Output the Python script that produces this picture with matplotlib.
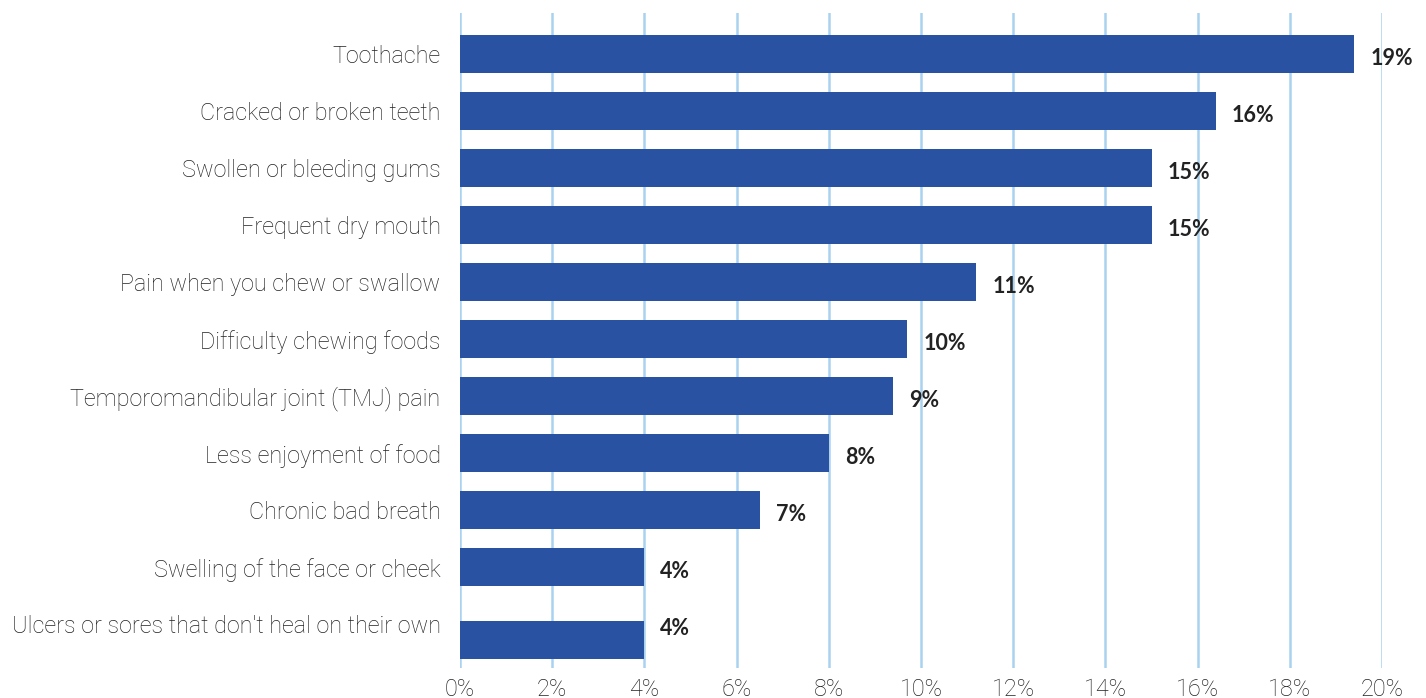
import matplotlib
matplotlib.use("Agg")
import matplotlib.pyplot as plt
import numpy as np

# Share of respondents reporting each oral health problem (%)
categories = [
    "Toothache",
    "Cracked or broken teeth",
    "Swollen or bleeding gums",
    "Frequent dry mouth",
    "Pain when you chew or swallow",
    "Difficulty chewing foods",
    "Temporomandibular joint (TMJ) pain",
    "Less enjoyment of food",
    "Chronic bad breath",
    "Swelling of the face or cheek",
    "Ulcers or sores that don't heal on their own",
]
values = [19.4, 16.4, 15.0, 15.0, 11.2, 9.7, 9.4, 8.0, 6.5, 4.0, 4.0]
xticks = [0, 2, 4, 6, 8, 10, 12, 14, 16, 18, 20]
xtick_labels = [f"{t}%" for t in xticks]

BAR_COLOR = "#2a52a2"
GRID_COLOR = "#a9d2f0"
TEXT_COLOR = "#222222"

fig = plt.figure(figsize=(14.26, 6.98), dpi=100)
ax = fig.add_axes([460 / 1426, 1 - 668 / 698, (1382 - 460) / 1426, 655 / 698])

pos = np.arange(len(categories), dtype=float)
bar_pos = pos.copy()
bar_pos[-1] += 0.28  # last bar sits a little lower than its label

ax.barh(bar_pos, values, height=0.67, color=BAR_COLOR, zorder=3)

for p, v in zip(pos, values):
    ax.annotate(f"{int(v + 0.5)}%", xy=(v, p), xytext=(11.5, -3),
                textcoords="offset points", ha="left", va="center",
                fontsize=15.5, fontweight="bold", family=["Lato", "DejaVu Sans"],
                color="#222222", annotation_clip=False, zorder=4)

ax.set_xlim(0, 20)
ax.set_ylim(10.77, -0.72)
ax.set_xticks(xticks)
ax.set_xticklabels(xtick_labels)
ax.set_yticks(pos)
ax.set_yticklabels(categories)

for lab in ax.get_yticklabels() + ax.get_xticklabels():
    lab.set_family(["Roboto", "DejaVu Sans"])
    lab.set_fontweight("light")
    lab.set_fontsize(16.8)
    lab.set_color(TEXT_COLOR)

ax.tick_params(axis="y", length=0, pad=14)
ax.tick_params(axis="x", length=0, pad=7)

ax.grid(axis="x", color=GRID_COLOR, linewidth=1.8, zorder=0)
ax.grid(axis="y", visible=False)
for s in ax.spines.values():
    s.set_visible(False)

fig.savefig("out.png", dpi=100, facecolor="white")
